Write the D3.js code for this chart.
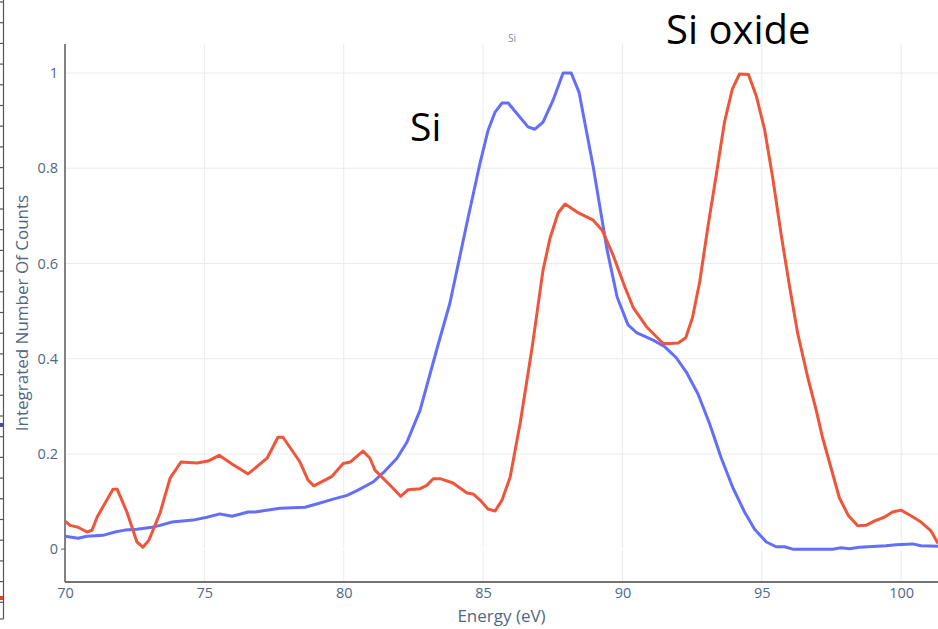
<!DOCTYPE html>
<html>
<head>
<meta charset="utf-8">
<script src="https://cdn.jsdelivr.net/npm/d3@7"></script>
<style>
  body { margin: 0; background: #fff; }
  svg { display: block; }
</style>
</head>
<body>
<script>
// Si (blue) and Si oxide (red) spectra
var siEnergy = [70.0, 70.47, 70.79, 71.36, 71.79, 72.15, 72.58, 73.12, 73.41, 73.84, 74.59, 75.09, 75.56, 75.99,
  76.57, 76.82, 77.71, 78.61, 79.15, 79.62, 80.12, 80.51, 81.05, 81.41, 81.91, 82.27, 82.74, 83.35, 83.81,
  84.42, 84.89, 85.18, 85.43, 85.68, 85.90, 86.61, 86.86, 87.15, 87.51, 87.87, 88.16, 88.44, 88.95, 89.45,
  89.81, 90.20, 90.52, 91.10, 91.52, 91.93, 92.29, 92.71, 93.13, 93.54, 93.96, 94.38, 94.74, 95.16, 95.51,
  95.81, 96.11, 97.54, 97.84, 98.14, 98.50, 99.45, 99.81, 100.41, 100.71, 101.32];
var siCounts = [0.027, 0.023, 0.027, 0.029, 0.036, 0.040, 0.042, 0.046, 0.050, 0.057, 0.061, 0.067, 0.074, 0.069,
  0.078, 0.078, 0.086, 0.088, 0.097, 0.105, 0.113, 0.124, 0.141, 0.160, 0.191, 0.225, 0.292, 0.422, 0.517,
  0.685, 0.811, 0.880, 0.918, 0.937, 0.937, 0.887, 0.882, 0.897, 0.943, 1.0, 1.0, 0.960, 0.803, 0.628,
  0.529, 0.471, 0.454, 0.439, 0.425, 0.402, 0.372, 0.326, 0.263, 0.192, 0.129, 0.078, 0.042, 0.015, 0.005,
  0.005, 0.000, 0.000, 0.003, 0.001, 0.004, 0.007, 0.009, 0.011, 0.007, 0.006];

var oxEnergy = [70.0, 70.18, 70.47, 70.79, 70.97, 71.15, 71.72, 71.87, 72.22, 72.58, 72.80, 73.01, 73.41, 73.77,
  74.16, 74.74, 75.13, 75.53, 75.99, 76.57, 77.25, 77.64, 77.82, 78.43, 78.72, 78.93, 79.58, 79.98, 80.23,
  80.69, 80.94, 81.12, 81.77, 82.04, 82.31, 82.74, 82.98, 83.21, 83.46, 83.92, 84.42, 84.64, 84.89, 85.18,
  85.43, 85.68, 85.97, 86.33, 86.76, 87.15, 87.40, 87.69, 87.94, 88.37, 88.95, 89.27, 89.66, 90.09, 90.38,
  90.88, 91.46, 91.71, 92.00, 92.27, 92.51, 92.77, 93.07, 93.37, 93.66, 93.94, 94.20, 94.52, 94.80, 95.10,
  95.39, 95.69, 95.99, 96.29, 96.65, 96.95, 97.18, 97.48, 97.78, 98.11, 98.44, 98.74, 99.03, 99.39, 99.69,
  99.99, 100.35, 100.71, 101.06, 101.32];
var oxCounts = [0.059, 0.050, 0.046, 0.036, 0.040, 0.067, 0.126, 0.126, 0.078, 0.015, 0.004, 0.019, 0.076, 0.149,
  0.183, 0.181, 0.185, 0.197, 0.179, 0.158, 0.191, 0.235, 0.235, 0.183, 0.145, 0.133, 0.153, 0.180, 0.183,
  0.206, 0.191, 0.166, 0.128, 0.111, 0.125, 0.127, 0.134, 0.148, 0.148, 0.139, 0.118, 0.116, 0.103, 0.084,
  0.080, 0.103, 0.151, 0.265, 0.424, 0.586, 0.653, 0.706, 0.725, 0.708, 0.691, 0.670, 0.618, 0.550, 0.508,
  0.466, 0.432, 0.432, 0.433, 0.444, 0.486, 0.561, 0.679, 0.788, 0.897, 0.966, 0.998, 0.997, 0.952, 0.881,
  0.780, 0.662, 0.553, 0.452, 0.360, 0.292, 0.234, 0.171, 0.108, 0.070, 0.049, 0.050, 0.059, 0.067, 0.078,
  0.082, 0.070, 0.057, 0.039, 0.012];

var xTicks = [70, 75, 80, 85, 90, 95, 100];
var yTicks = [0, 0.2, 0.4, 0.6, 0.8, 1];

var w = 938, h = 629;
var padL = 65, padR = 938, padT = 44, padB = 582;

var svg = d3.select("body").append("svg")
  .attr("width", w)
  .attr("height", h);

var xScale = d3.scaleLinear()
  .domain([70, 101.32])
  .range([padL, padR]);

var yScale = d3.scaleLinear()
  .domain([-0.069, 1.061])
  .range([padB, padT]);

// cropped ruler of a neighbouring figure on the far left
var ruler = svg.append("g").attr("stroke", "#555").attr("stroke-width", 1.2);
ruler.append("line").attr("x1", 3.5).attr("x2", 3.5).attr("y1", 0).attr("y2", 619);
d3.range(2, 619, 20.7).forEach(function(y){
  ruler.append("line").attr("x1", 0).attr("x2", 3.5).attr("y1", y).attr("y2", y);
});
ruler.append("line").attr("x1", 0).attr("x2", 3.5).attr("y1", 619).attr("y2", 619);
svg.append("rect").attr("x", 0).attr("y", 423).attr("width", 3).attr("height", 4).attr("fill", "#4a4aa0");
svg.append("rect").attr("x", 0).attr("y", 596).attr("width", 3).attr("height", 4).attr("fill", "#e0442a");

// grid
svg.append("g")
  .selectAll("line")
  .data(xTicks)
  .enter()
  .append("line")
  .attr("x1", function(d){ return xScale(d); })
  .attr("x2", function(d){ return xScale(d); })
  .attr("y1", padT)
  .attr("y2", padB)
  .attr("stroke", "#ebebeb")
  .attr("stroke-width", 1);

svg.append("g")
  .selectAll("line")
  .data(yTicks.filter(function(d){ return d !== 0; }))
  .enter()
  .append("line")
  .attr("x1", padL)
  .attr("x2", padR)
  .attr("y1", function(d){ return yScale(d); })
  .attr("y2", function(d){ return yScale(d); })
  .attr("stroke", "#ebebeb")
  .attr("stroke-width", 1);

// white zero line like plotly
svg.append("line")
  .attr("x1", padL).attr("x2", padR)
  .attr("y1", yScale(0)).attr("y2", yScale(0))
  .attr("stroke", "#fff")
  .attr("stroke-width", 2);

// axes
var xAxis = svg.append("g")
  .attr("transform", "translate(0," + padB + ")")
  .call(d3.axisBottom(xScale).tickValues(xTicks).tickSize(0).tickPadding(6));

var yAxis = svg.append("g")
  .attr("transform", "translate(" + padL + ",0)")
  .call(d3.axisLeft(yScale).tickValues(yTicks).tickSize(0).tickPadding(7)
    .tickFormat(function(d){ return d3.format("~g")(d); }));

[xAxis, yAxis].forEach(function(a){
  a.select(".domain").attr("stroke", "#444").attr("stroke-width", 1.3);
  a.selectAll("text")
    .attr("font-family", "'Open Sans', sans-serif")
    .attr("font-size", "14.5px")
    .attr("fill", "#506784");
});
yAxis.select(".domain").attr("d", "M0," + padT + "V" + padB);
xAxis.select(".domain").attr("d", "M" + padL + ",0H" + padR);

// short tick at zero
svg.append("line")
  .attr("x1", padL - 4).attr("x2", padL)
  .attr("y1", yScale(0)).attr("y2", yScale(0))
  .attr("stroke", "#506784").attr("stroke-width", 1);

// lines
var line = d3.line()
  .x(function(d){ return xScale(d[0]); })
  .y(function(d){ return yScale(d[1]); });

svg.append("clipPath").attr("id", "plotclip")
  .append("rect").attr("x", padL).attr("y", padT).attr("width", padR - padL).attr("height", padB - padT);

svg.append("path")
  .datum(d3.zip(siEnergy, siCounts))
  .attr("clip-path", "url(#plotclip)")
  .attr("d", line)
  .attr("fill", "none")
  .attr("stroke", "#636efa")
  .attr("stroke-width", 3)
  .attr("stroke-linejoin", "round");

svg.append("path")
  .datum(d3.zip(oxEnergy, oxCounts))
  .attr("clip-path", "url(#plotclip)")
  .attr("d", line)
  .attr("fill", "none")
  .attr("stroke", "#ef553b")
  .attr("stroke-width", 3)
  .attr("stroke-linejoin", "round");

// titles
svg.append("text")
  .text("Si")
  .attr("x", 512)
  .attr("y", 42)
  .attr("text-anchor", "middle")
  .attr("font-family", "'Open Sans', sans-serif")
  .attr("font-size", "10px")
  .attr("fill", "#7f8a9c");

svg.append("text")
  .text("Energy (eV)")
  .attr("x", (padL + padR) / 2)
  .attr("y", 622)
  .attr("text-anchor", "middle")
  .attr("font-family", "'Open Sans', sans-serif")
  .attr("font-size", "17px")
  .attr("fill", "#506784");

svg.append("text")
  .text("Integrated Number Of Counts")
  .attr("transform", "translate(28," + ((padT + padB) / 2) + ") rotate(-90)")
  .attr("text-anchor", "middle")
  .attr("font-family", "'Open Sans', sans-serif")
  .attr("font-size", "17px")
  .attr("fill", "#506784");

// big peak labels
svg.append("text")
  .text("Si")
  .attr("x", 410)
  .attr("y", 141)
  .attr("font-family", "'Open Sans', sans-serif")
  .attr("font-size", "39px")
  .attr("fill", "#000");

svg.append("text")
  .text("Si oxide")
  .attr("x", 666)
  .attr("y", 44)
  .attr("font-family", "'Open Sans', sans-serif")
  .attr("font-size", "40px")
  .attr("fill", "#000");
</script>
</body>
</html>
